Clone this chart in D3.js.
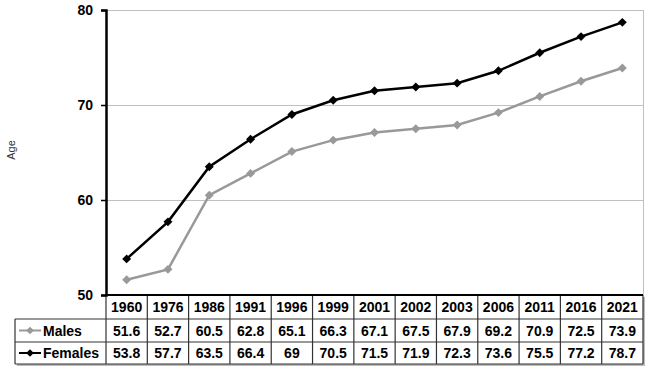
<!DOCTYPE html>
<html lang="en">
<head>
<meta charset="UTF-8">
<title>Age</title>
<script src="https://cdn.jsdelivr.net/npm/d3@7"></script>
<style>
  body{margin:0;background:#fff;}
  text{font-family:"Liberation Sans",Arial,sans-serif;}
</style>
</head>
<body>
<script>
var years=["1960","1976","1986","1991","1996","1999","2001","2002","2003","2006","2011","2016","2021"];
var males=[51.6,52.7,60.5,62.8,65.1,66.3,67.1,67.5,67.9,69.2,70.9,72.5,73.9];
var females=[53.8,57.7,63.5,66.4,69,70.5,71.5,71.9,72.3,73.6,75.5,77.2,78.7];
var yTicks=[50,60,70,80];
var series=[
  {name:"Males",values:males,color:"#999999"},
  {name:"Females",values:females,color:"#000000"}
];

var width=650,height=374;
var plot={left:106,right:643,top:10,bottom:295};
var tableLeft=15,rowH=[295,319,342,364];
var fs=14;

var svg=d3.select("body").append("svg").attr("width",width).attr("height",height);

var x=d3.scaleBand().domain(years).range([plot.left,plot.right]);
var y=d3.scaleLinear().domain([50,80]).range([plot.bottom,plot.top]);

// diamond = rotated square
function diamond(size){return d3.symbol(d3.symbolSquare,size)();}

// gridlines
svg.append("g").selectAll("line").data(yTicks.filter(function(d){return d>50;})).enter()
  .append("line")
  .attr("x1",plot.left).attr("x2",plot.right)
  .attr("y1",function(d){return y(d)+0.5;}).attr("y2",function(d){return y(d)+0.5;})
  .attr("stroke","#c0c0c0").attr("stroke-width",1);
svg.append("line").attr("x1",plot.right+0.5).attr("x2",plot.right+0.5)
  .attr("y1",plot.top).attr("y2",plot.bottom).attr("stroke","#c0c0c0");

// table shadow
svg.append("rect").attr("x",tableLeft+2).attr("y",rowH[1]+2)
  .attr("width",plot.right-tableLeft).attr("height",rowH[3]-rowH[1]).attr("fill","#bbbbbb");
svg.append("rect").attr("x",plot.left+2).attr("y",rowH[0]+2)
  .attr("width",plot.right-plot.left).attr("height",rowH[3]-rowH[0]).attr("fill","#bbbbbb");
svg.append("rect").attr("x",plot.left).attr("y",rowH[0])
  .attr("width",plot.right-plot.left).attr("height",rowH[3]-rowH[0]).attr("fill","#fff");
svg.append("rect").attr("x",tableLeft).attr("y",rowH[1])
  .attr("width",plot.right-tableLeft).attr("height",rowH[3]-rowH[1]).attr("fill","#fff");

// table lines
var tl=svg.append("g").attr("stroke","#333").attr("stroke-width",1.2);
tl.selectAll("line.v").data(years.concat(["end"])).enter().append("line")
  .attr("x1",function(d,i){return i<years.length?x(d):plot.right;})
  .attr("x2",function(d,i){return i<years.length?x(d):plot.right;})
  .attr("y1",rowH[0]).attr("y2",rowH[3]);
tl.append("line").attr("x1",tableLeft).attr("x2",tableLeft).attr("y1",rowH[1]).attr("y2",rowH[3]);
[1,2,3].forEach(function(r){
  tl.append("line").attr("x1",tableLeft).attr("x2",plot.right).attr("y1",rowH[r]).attr("y2",rowH[r]);
});

// year header
svg.append("g").selectAll("text").data(years).enter().append("text")
  .attr("x",function(d){return x(d)+x.bandwidth()/2;})
  .attr("y",(rowH[0]+rowH[1])/2+5)
  .attr("text-anchor","middle").attr("font-size",fs).attr("font-weight","bold")
  .text(function(d){return d;});

// series rows
series.forEach(function(s,si){
  var cy=(rowH[si+1]+rowH[si+2])/2;
  var row=svg.append("g");
  row.selectAll("text").data(s.values).enter().append("text")
    .attr("x",function(d,i){return x(years[i])+x.bandwidth()/2;})
    .attr("y",cy+5)
    .attr("text-anchor","middle").attr("font-size",fs).attr("font-weight","bold")
    .text(function(d){return d;});
  row.append("line").attr("x1",tableLeft+4).attr("x2",tableLeft+26)
    .attr("y1",cy).attr("y2",cy).attr("stroke",s.color).attr("stroke-width",2);
  row.append("path").attr("d",diamond(30))
    .attr("transform","translate("+(tableLeft+15)+","+cy+") rotate(45)").attr("fill",s.color);
  row.append("text").attr("x",tableLeft+28).attr("y",cy+5)
    .attr("font-size",fs).attr("font-weight","bold").text(s.name);
});

// y axis
var yAxis=d3.axisLeft(y).tickValues(yTicks).tickSize(5).tickPadding(8);
var ya=svg.append("g").attr("transform","translate("+plot.left+",0)").call(yAxis);
ya.select(".domain").attr("stroke","#000").attr("stroke-width",2.5);
ya.selectAll(".tick line").attr("stroke","#000").attr("stroke-width",1.5);
ya.selectAll(".tick text").attr("font-size",fs).attr("font-weight","bold")
  .attr("font-family","Liberation Sans, Arial, sans-serif").attr("fill","#000");

// x baseline
svg.append("line").attr("x1",plot.left).attr("x2",plot.right)
  .attr("y1",plot.bottom).attr("y2",plot.bottom).attr("stroke","#000").attr("stroke-width",2);

// Age label
svg.append("text").attr("transform","translate(15,150) rotate(-90)")
  .attr("text-anchor","middle").attr("font-size",11).attr("fill","#333").text("Age");

// lines
var line=d3.line()
  .x(function(d,i){return x(years[i])+x.bandwidth()/2;})
  .y(function(d){return y(d);});
series.forEach(function(s){
  svg.append("path").datum(s.values).attr("d",line)
    .attr("fill","none").attr("stroke",s.color).attr("stroke-width",2.5);
  svg.append("g").selectAll("path").data(s.values).enter().append("path")
    .attr("d",diamond(40))
    .attr("transform",function(d,i){return "translate("+(x(years[i])+x.bandwidth()/2)+","+y(d)+") rotate(45)";})
    .attr("fill",s.color);
});
</script>
</body>
</html>
